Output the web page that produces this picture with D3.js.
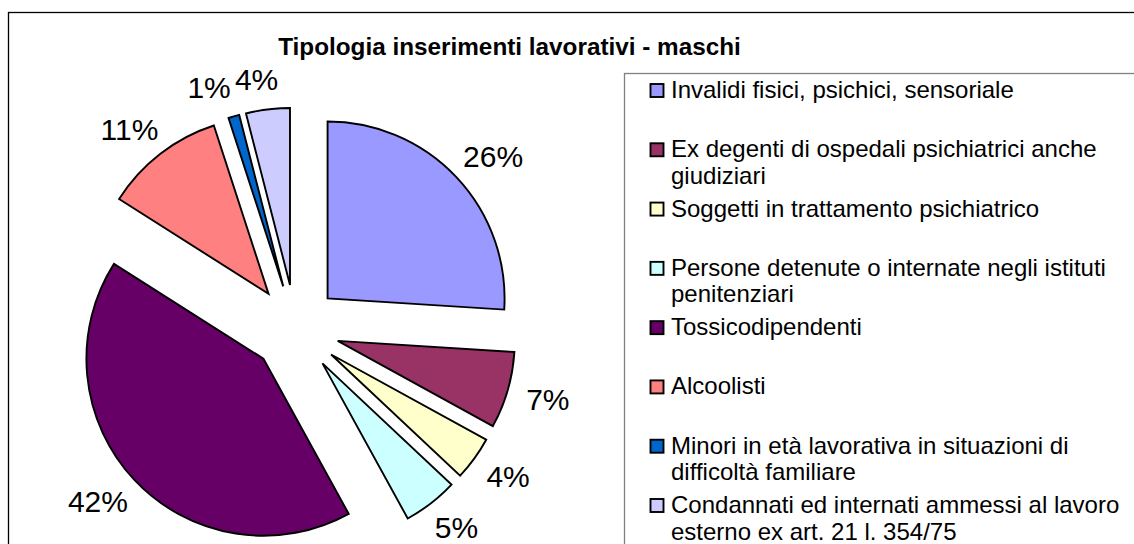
<!DOCTYPE html>
<html>
<head>
<meta charset="utf-8">
<script src="https://cdn.jsdelivr.net/npm/d3@7"></script>
<style>
  html, body { margin: 0; padding: 0; background: #fff; overflow: hidden; }
  svg { display: block; font-family: "Liberation Sans", Arial, sans-serif; }
</style>
</head>
<body>
<svg id="chart" width="1134" height="544"></svg>
<script>
const title = "Tipologia inserimenti lavorativi - maschi";
const categories = [
  "Invalidi fisici, psichici, sensoriale",
  "Ex degenti di ospedali psichiatrici anche giudiziari",
  "Soggetti in trattamento psichiatrico",
  "Persone detenute o internate negli istituti penitenziari",
  "Tossicodipendenti",
  "Alcoolisti",
  "Minori in età lavorativa in situazioni di difficoltà familiare",
  "Condannati ed internati ammessi al lavoro esterno ex art. 21 l. 354/75"
];
const legendLines = [
  ["Invalidi fisici, psichici, sensoriale"],
  ["Ex degenti di ospedali psichiatrici anche", "giudiziari"],
  ["Soggetti in trattamento psichiatrico"],
  ["Persone detenute o internate negli istituti", "penitenziari"],
  ["Tossicodipendenti"],
  ["Alcoolisti"],
  ["Minori in età lavorativa in situazioni di", "difficoltà familiare"],
  ["Condannati ed internati ammessi al lavoro", "esterno ex art. 21 l. 354/75"]
];
const values = [26, 7, 4, 5, 42, 11, 1, 4];
const colors = ["#9999FF", "#993366", "#FFFFCC", "#CCFFFF", "#660066", "#FF8080", "#0066CC", "#CCCCFF"];

const svg = d3.select("#chart");

// outer chart border
svg.append("rect")
  .attr("x", 8.5).attr("y", 12.5)
  .attr("width", 1300).attr("height", 700)
  .attr("fill", "#fff").attr("stroke", "#000").attr("stroke-width", 1.3);

// title
svg.append("text")
  .attr("x", 509.5).attr("y", 54.5)
  .attr("text-anchor", "middle")
  .attr("font-size", 24.3).attr("font-weight", "bold")
  .attr("fill", "#000")
  .text(title);

// pie
const cx = 295.5, cy = 328.6, r = 177, explode = 44;
const pie = d3.pie().sort(null).value(d => d).startAngle(0).endAngle(2 * Math.PI);
const arcs = pie(values);
const arc = d3.arc().innerRadius(0).outerRadius(r);
const total = d3.sum(values);
const fmt = d3.format(".0%");

const g = svg.append("g").attr("transform", `translate(${cx},${cy})`);

arcs.forEach((a, i) => {
  const mid = (a.startAngle + a.endAngle) / 2;
  const dx = Math.sin(mid) * explode, dy = -Math.cos(mid) * explode;
  g.append("path")
    .attr("d", arc(a))
    .attr("transform", `translate(${dx},${dy})`)
    .attr("fill", colors[i])
    .attr("stroke", "#000")
    .attr("stroke-width", 1.9)
    .attr("stroke-linejoin", "miter");
});

// labels (outside end, with simple overlap avoidance)
const labelGap = 20, labelSize = 30;
const labels = arcs.map((a, i) => {
  const mid = (a.startAngle + a.endAngle) / 2;
  const s = Math.sin(mid), c = -Math.cos(mid);
  const txt = fmt(a.data / total);
  const tw = (txt.length === 3 ? 2.0 : 1.45) * labelSize;
  const th = labelSize * 0.72;
  return {
    txt, tw, th,
    x: s * (explode + r + labelGap) + s * tw / 2,
    y: c * (explode + r + labelGap) + c * th / 2
  };
});
for (let i = labels.length - 2; i >= 0; i--) {
  const a = labels[i], b = labels[i + 1];
  const ox = (a.tw + b.tw) / 2 + 4 - Math.abs(a.x - b.x);
  const oy = (a.th + b.th) / 2 - Math.abs(a.y - b.y);
  if (ox > 0 && oy > 0 && a.x < b.x) {
    a.x -= ox + 6;
    b.x -= 6;
  }
}
labels.forEach(l => {
  g.append("text")
    .attr("x", l.x).attr("y", l.y)
    .attr("text-anchor", "middle")
    .attr("dy", "0.36em")
    .attr("font-size", labelSize)
    .attr("fill", "#000")
    .text(l.txt);
});

// legend
const lx = 624, ly = 73;
svg.append("rect")
  .attr("x", lx + 0.5).attr("y", ly + 0.5)
  .attr("width", 700).attr("height", 600)
  .attr("fill", "#fff").attr("stroke", "#808080").attr("stroke-width", 1.3);

const legendY = d3.scaleLinear().domain([0, categories.length - 1]).range([98, 513]);
const legendSize = 24;
categories.forEach((cat, i) => {
  const y = legendY(i);
  svg.append("rect")
    .attr("x", 650.5).attr("y", y - 14)
    .attr("width", 13).attr("height", 13)
    .attr("fill", colors[i]).attr("stroke", "#000").attr("stroke-width", 1.9);
  const t = svg.append("text")
    .attr("x", 671).attr("y", y)
    .attr("font-size", legendSize)
    .attr("fill", "#000");
  legendLines[i].forEach((line, j) => {
    t.append("tspan").attr("x", 671).attr("y", y + j * 26.5).text(line);
  });
});
</script>
</body>
</html>
